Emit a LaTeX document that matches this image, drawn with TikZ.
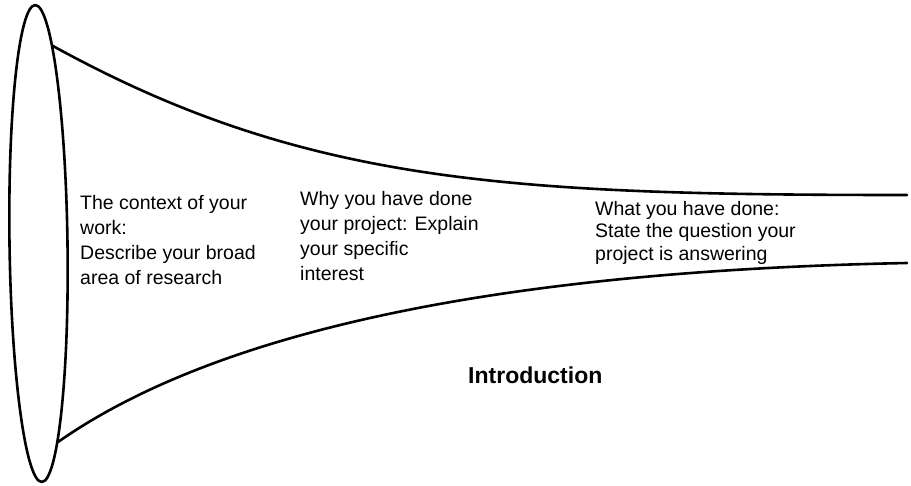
\documentclass[tikz,border=0pt]{standalone}
\usepackage{fontspec}
\setmainfont{Liberation Sans}
\begin{document}
\begin{tikzpicture}[x=1pt,y=-1pt,
  outline/.style={line width=2.6pt,line join=round,line cap=round},
  label/.style={inner sep=0pt,anchor=base west,align=left},
  small/.style={font=\fontsize{19.5}{25}\selectfont},
  title/.style={inner sep=0pt,anchor=base west,font=\fontsize{23}{27}\selectfont\bfseries}]
\useasboundingbox (0,0) rectangle (911,485);
% mouth of the funnel
\draw[outline,rotate around={0.8:(38.5,243.5)}] (38.5,243.5) ellipse [x radius=29, y radius=238.5];
% upper edge
\coordinate (u0) at (53,46);
\coordinate (u1) at (907,195);
\draw[outline] (u0) .. controls (303,183.5) and (507,195) .. (u1);
% lower edge
\coordinate (l0) at (58,442);
\coordinate (l1) at (907,263);
\draw[outline] (l0) .. controls (238,316) and (557,270) .. (l1);
\node[label,small] (ctx) at (80,284) {The context of your\\work:\\Describe your broad\\area of research};
\node[label,small] (why) at (300,280) {Why you have done\\your project: Explain\\your specific\\interest};
\node[label,small,font=\fontsize{19.5}{22.5}\selectfont] (what) at (595,260) {What you have done:\\State the question your\\project is answering};
\node[title] (intro) at (468,383) {Introduction};
\end{tikzpicture}
\end{document}
